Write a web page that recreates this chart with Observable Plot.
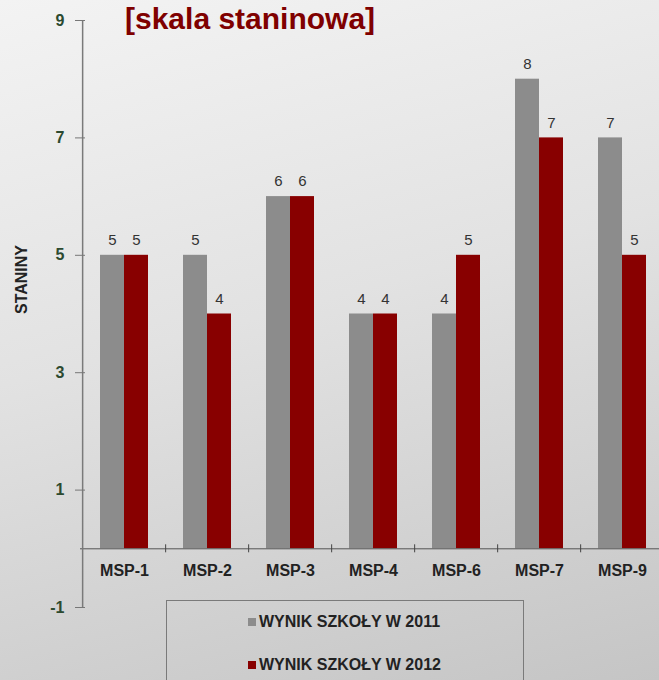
<!DOCTYPE html>
<html><head><meta charset="utf-8">
<script src="https://cdn.jsdelivr.net/npm/d3@7"></script>
<script src="https://cdn.jsdelivr.net/npm/@observablehq/plot@0.6"></script>
<style>
html,body{margin:0;padding:0;width:659px;height:680px;overflow:hidden;}
body{background:linear-gradient(165deg,#f3f3f3 0%,#e2e2e2 45%,#c5c5c5 100%);font-family:"Liberation Sans",Arial,sans-serif;position:relative;}
#chart{position:absolute;left:0;top:0;width:666px;}
#chart svg{max-width:none !important;}
#title{position:absolute;left:125px;top:2px;font:bold 30px "Liberation Sans",Arial,sans-serif;line-height:1.1;color:#7f0000;white-space:nowrap;}
#legend{position:absolute;left:166px;top:600px;width:358px;height:120px;border:1px solid #7a7a7a;box-sizing:border-box;}
.lg{position:absolute;left:248px;font:bold 16px "Liberation Sans",Arial,sans-serif;line-height:1;color:#222;white-space:nowrap;}
.sw{display:inline-block;width:8px;height:8px;margin-right:3px;vertical-align:1px;}
</style></head>
<body>
<div id="chart"></div>
<div id="title">[skala staninowa]</div>
<div id="legend"></div>
<script>
const categories = ["MSP-1","MSP-2","MSP-3","MSP-4","MSP-6","MSP-7","MSP-9"];
const seriesNames = ["WYNIK SZKOŁY W 2011","WYNIK SZKOŁY W 2012"];
const values2011 = [5,5,6,4,4,8,7];
const values2012 = [5,4,6,4,5,7,5];
const yTicks = [-1,1,3,5,7,9];
const colors = ["#8c8c8c","#880000"];
const yLabel = "STANINY";

const rows2011 = categories.map((c,i)=>({cat:c, v:values2011[i]}));
const rows2012 = categories.map((c,i)=>({cat:c, v:values2012[i]}));

const W = 666, ML = 80;
const step = (W - ML) / categories.length;
const font = "Liberation Sans, Arial, sans-serif";

const plot = Plot.plot({
  width: W, height: 680,
  marginLeft: ML, marginRight: 0, marginTop: 20, marginBottom: 73,
  style: {background: "transparent", overflow: "visible", fontFamily: font, maxWidth: "none"},
  x: {domain: categories, paddingInner: 0.7133, paddingOuter: 0.35665, axis: null},
  y: {domain: [-1, 9], axis: null},
  marks: [
    Plot.barY(rows2011, {x: "cat", y: "v", fill: colors[0], dx: -12}),
    Plot.barY(rows2012, {x: "cat", y: "v", fill: colors[1], dx: 12}),
    Plot.text(rows2011, {x: "cat", y: "v", text: d => String(d.v), dx: -12, dy: -15, fontSize: 15, fill: "#333"}),
    Plot.text(rows2012, {x: "cat", y: "v", text: d => String(d.v), dx: 12, dy: -15, fontSize: 15, fill: "#333"}),
    Plot.ruleY([0], {stroke: "#555", strokeWidth: 1}),
    Plot.ruleX([categories[0]], {x: d => d, dx: -step/2, y1: yTicks[0], y2: yTicks[yTicks.length-1], stroke: "#7a7a7a", strokeWidth: 1.5}),
    Plot.ruleX(categories.slice(1), {x: d => d, dx: -step/2, y1: 0, y2: 0, insetTop: -4, insetBottom: -4, stroke: "#444"}),
    Plot.text(categories, {x: d => d, y: () => 0, dy: 22, text: d => d, fontSize: 16, fontWeight: "bold", fill: "#222"}),
    Plot.axisY(yTicks, {tickSize: 5, tickPadding: 11, tickFormat: d => String(d), fontSize: 16, fontWeight: "bold", color: "#2c4a30", stroke: "#777", label: null}),
    Plot.axisY(yTicks, {tickSize: 5, text: null, dx: 5, stroke: "#777", label: null}),
    Plot.text([yLabel], {frameAnchor: "left", dx: -59, rotate: -90, text: d => d, fontSize: 16, fontWeight: "bold", fill: "#222"})
  ]
});
document.getElementById("chart").appendChild(plot);

const tops = [614, 657];
seriesNames.forEach((n,i)=>{
  const d = document.createElement("div");
  d.className = "lg";
  d.style.top = tops[i] + "px";
  d.innerHTML = `<span class="sw" style="background:${colors[i]}"></span>${n}`;
  document.body.appendChild(d);
});
</script>
</body></html>
